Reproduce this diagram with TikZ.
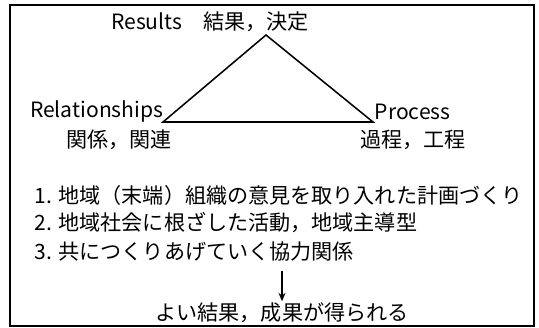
\documentclass[tikz,border=0pt]{standalone}
\usepackage{fontspec}
\setmainfont{Noto Sans CJK JP}
\usetikzlibrary{positioning,arrows.meta}

\tikzset{
  lbl/.style={inner sep=1pt, font=\fontsize{15}{17}\selectfont},
  item/.style={lbl, anchor=west},
  tri/.style={line width=1.1pt, line join=miter},
  down/.style={-{Stealth[length=6pt,width=5pt]}, line width=0.9pt}
}

\begin{document}
\begin{tikzpicture}[x=0.025cm,y=-0.025cm]
  \useasboundingbox (0,0) rectangle (539,328);

  % Draw the frame
  \draw[line width=0.8pt] (10,5) rectangle (534,326);

  % Draw the triangle
  \coordinate (top) at (266,35);
  \coordinate (left) at (163,122);
  \coordinate (right) at (373,122);
  \draw[tri] (top) -- (left) -- (right) -- cycle;

  % Corner labels
  \node[lbl] (results) at (210,22) {Results\quad 結果，決定};
  \node[lbl, anchor=east] (relations) at (165,112) {Relationships};
  \node[lbl] (relationsjp) at (119,140) {関係，関連};
  \node[lbl, anchor=west] (process) at (373,112) {Process};
  \node[lbl] (processjp) at (413,140) {過程，工程};

  % The three points
  \node[item] (first) at (33,195) {1. 地域（末端）組織の意見を取り入れた計画づくり};
  \node[item] (second) at (33,223) {2. 地域社会に根ざした活動，地域主導型};
  \node[item] (third) at (33,252) {3. 共につくりあげていく協力関係};

  % Draw the arrow to the outcome
  \node[lbl] (outcome) at (282,313) {よい結果，成果が得られる};
  \coordinate (arrowtop) at (282,271);
  \draw[down] (arrowtop) -- (outcome.north);

\end{tikzpicture}
\end{document}
